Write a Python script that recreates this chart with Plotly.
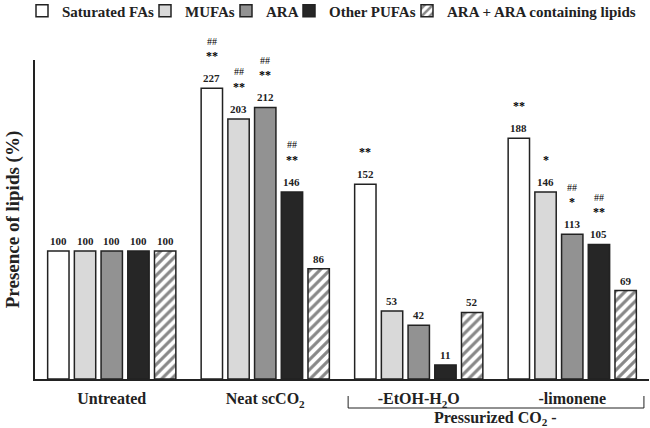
import plotly.graph_objects as go

# ---- data ----
categories = ["Untreated", "Neat scCO2", "-EtOH-H2O", "-limonene"]
tick_labels = ["Untreated", "Neat scCO<sub>2</sub>", "-EtOH-H<sub>2</sub>O", "-limonene"]

series_names = ["Saturated FAs", "MUFAs", "ARA", "Other PUFAs", "ARA + ARA containing lipids"]
saturated = [100, 227, 152, 188]
mufas = [100, 203, 53, 146]
ara = [100, 212, 42, 113]
other_pufas = [100, 146, 11, 105]
ara_lipids = [100, 86, 52, 69]

saturated_stars = ["", "**", "**", "**"]
mufas_stars = ["", "**", "", "*"]
ara_stars = ["", "**", "", "*"]
other_pufas_stars = ["", "**", "", "**"]
ara_lipids_stars = ["", "", "", ""]

saturated_hash = ["", "##", "", ""]
mufas_hash = ["", "##", "", ""]
ara_hash = ["", "##", "", "##"]
other_pufas_hash = ["", "##", "", "##"]
ara_lipids_hash = ["", "", "", ""]

bracket_label = "Pressurized CO<sub>2</sub> -"
y_title = "Presence of lipids (%)"

# ---- styling ----
FONT = "Liberation Serif"
INK = "#222222"
fills = ["#ffffff", "#d9d9d9", "#929292", "#262626", "#ffffff"]
patterns = ["", "", "", "", "/"]
values = [saturated, mufas, ara, other_pufas, ara_lipids]
stars = [saturated_stars, mufas_stars, ara_stars, other_pufas_stars, ara_lipids_stars]
hashes = [saturated_hash, mufas_hash, ara_hash, other_pufas_hash, ara_lipids_hash]
legend_text_px = [62, 185, 266, 329, 447]
LEGEND_TEXT_OFFSET = 40

BARGAP = 0.13
BARGROUPGAP = 0.2
L, R, T, B = 35, 1, 60, 49
W, H = 650, 428
plot_w = W - L - R
plot_h = H - T - B

fig = go.Figure()
legend_layouts = {}
for j, name in enumerate(series_names):
    lname = "legend" if j == 0 else f"legend{j+1}"
    fig.add_trace(go.Bar(
        x=categories, y=values[j], name=name, legend=lname,
        marker=dict(color=fills[j], line=dict(color=INK, width=1.5),
                    pattern=dict(shape=patterns[j], fgcolor="#111111", bgcolor="#ffffff",
                                 size=7, solidity=0.45)),
        hoverinfo="x+y+name",
    ))
    legend_layouts[lname] = dict(
        orientation="h", x=(legend_text_px[j] - LEGEND_TEXT_OFFSET - L) / plot_w, xanchor="left",
        y=1 + (T - 11) / plot_h, yanchor="middle",
        bgcolor="rgba(0,0,0,0)", borderwidth=0,
        font=dict(family=FONT, size=15, color=INK, weight="bold"),
    )

n = len(series_names)
slot = (1 - BARGAP) / n
annotations = []
for j in range(n):
    for i in range(len(categories)):
        xpos = i + (j - (n - 1) / 2) * slot
        v = values[j][i]
        annotations.append(dict(x=xpos, y=v, xref="x", yref="y", text=str(v), showarrow=False,
                                yanchor="middle", yshift=10,
                                font=dict(family=FONT, size=11, color=INK, weight="bold")))
        if stars[j][i]:
            annotations.append(dict(x=xpos, y=v, xref="x", yref="y", text=stars[j][i], showarrow=False,
                                    yanchor="middle", yshift=32,
                                    font=dict(family=FONT, size=12, color="#000000", weight="bold")))
        if hashes[j][i]:
            annotations.append(dict(x=xpos, y=v, xref="x", yref="y", text=hashes[j][i], showarrow=False,
                                    yanchor="middle", yshift=47,
                                    font=dict(family=FONT, size=10, color="#000000")))

# bracket under the pressurized CO2 groups
bx0, bx1 = 1.54, 3.467
by_top = (379 - 396) / plot_h
by_bot = (379 - 408) / plot_h
shapes = [
    dict(type="line", xref="x", yref="paper", x0=bx0, x1=bx0, y0=by_top, y1=by_bot, line=dict(color=INK, width=1)),
    dict(type="line", xref="x", yref="paper", x0=bx1, x1=bx1, y0=by_top, y1=by_bot, line=dict(color=INK, width=1)),
    dict(type="line", xref="x", yref="paper", x0=bx0, x1=bx1, y0=by_bot, y1=by_bot, line=dict(color=INK, width=1)),
]
annotations.append(dict(x=2.5, y=by_bot, xref="x", yref="paper", text=bracket_label,
                        showarrow=False, yanchor="top", yshift=1,
                        font=dict(family=FONT, size=16, color=INK, weight="bold")))

fig.update_layout(
    width=W, height=H, margin=dict(l=L, r=R, t=T, b=B, autoexpand=False),
    plot_bgcolor="#ffffff", paper_bgcolor="#ffffff",
    barmode="group", bargap=BARGAP, bargroupgap=BARGROUPGAP,
    annotations=annotations, shapes=shapes,
    showlegend=True,
    **legend_layouts,
)
fig.update_xaxes(type="category", categoryorder="array", categoryarray=categories,
                 range=[-0.5, 3.5], showline=True, linecolor=INK, linewidth=2,
                 ticks="", tickvals=categories, ticktext=tick_labels, ticklabelstandoff=4,
                 tickfont=dict(family=FONT, size=16, color=INK, weight="bold"),
                 showgrid=False, zeroline=False, automargin=False)
fig.update_yaxes(range=[0, 249], showline=True, linecolor=INK, linewidth=2,
                 showticklabels=False, ticks="", showgrid=False, zeroline=False, automargin=False,
                 title=dict(text=y_title, standoff=8,
                            font=dict(family=FONT, size=19, color=INK, weight="bold")))

fig.write_html("out.html", config={"displayModeBar": False},
               post_script="document.body.style.margin='0';document.body.style.overflow='hidden';")
